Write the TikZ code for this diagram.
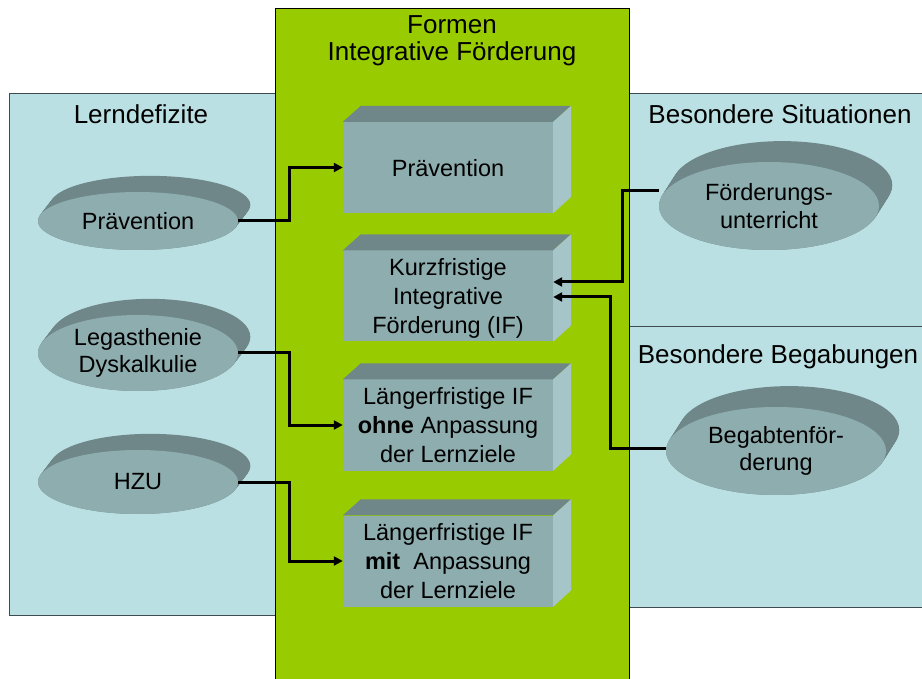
\documentclass[tikz,border=0pt]{standalone}
\usepackage{fontspec}
\setmainfont{Liberation Sans}
\usetikzlibrary{arrows.meta,shapes.geometric}

\definecolor{feldblau}{HTML}{BBE0E3}
\definecolor{feldgruen}{HTML}{99CC00}
\definecolor{vorne}{HTML}{8EADAF}
\definecolor{oben}{HTML}{6F8789}
\definecolor{seite}{HTML}{A6C5C9}
\definecolor{rand}{HTML}{3F4A4C}

\tikzset{
  titel/.style={font=\fontsize{26}{27}\selectfont, align=center},
  quader/.style={fill=vorne, minimum width=210pt, minimum height=91pt, inner sep=0pt,
    text depth=0pt, align=center, font=\fontsize{23.5}{29}\selectfont},
  scheibe/.style={ellipse, fill=vorne, inner sep=0pt, align=center,
    font=\fontsize{23.5}{27.5}\selectfont},
  verbinder/.style={line width=3pt, -{Triangle[length=9pt,width=9pt]}},
}

\begin{document}
\begin{tikzpicture}[x=1pt,y=-1pt]
\useasboundingbox (0,0) rectangle (922,679);
\clip (0,0) rectangle (922,679);

% Felder
\filldraw[fill=feldblau, draw=rand, thin] (9,93) rectangle (300,615);
\filldraw[fill=feldblau, draw=rand, thin] (600,93) rectangle (940,326);
\filldraw[fill=feldblau, draw=rand, thin] (600,326) rectangle (940,607);
\filldraw[fill=feldgruen, draw=black, thin] (275,8) rectangle (629,700);

\node[titel] (formen) at (452,41) {Formen\\Integrative Förderung};
\node[titel] (lern) at (141,114) {Lerndefizite};
\node[titel] (situ) at (780,114) {Besondere Situationen};
\node[titel] (begab) at (778,357) {Besondere Begabungen};

% Scheiben (Rueckseite)
\foreach \cx/\cy/\ry in {138/221/29, 138/353/38, 138/482/32} {
  \foreach \t in {0,0.05,...,1}
    \fill[oben] ({\cx+13*\t},{\cy-17*\t}) ellipse (100pt and \ry pt);
}
\foreach \cx/\cy in {769/206, 776/451} {
  \foreach \t in {0,0.05,...,1}
    \fill[oben] ({\cx+14*\t},{\cy-22*\t}) ellipse (110pt and 44pt);
}

\node[scheibe, minimum width=200pt, minimum height=58pt] (e1) at (138,221) {Prävention};
\node[scheibe, minimum width=200pt, minimum height=76pt] (e2) at (138,353) {Legasthenie\\Dyskalkulie};
\node[scheibe, minimum width=200pt, minimum height=64pt] (e3) at (138,482) {HZU};
\node[scheibe, minimum width=220pt, minimum height=88pt] (e4) at (769,206) {Förderungs-\\unterricht};
\node[scheibe, minimum width=220pt, minimum height=88pt] (e5) at (776,451) {Begabtenför-\\derung};

% Quader
\node[quader] (b1) at (448,167.5) {Prävention};
\node[quader] (b2) at (448,296) {Kurzfristige\\Integrative\\Förderung (IF)};
\node[quader] (b3) at (448,425) {Längerfristige IF\\\textbf{ohne} Anpassung\\der Lernziele};
\node[quader] (b4) at (448,561) {Längerfristige IF\\\textbf{mit}~ Anpassung\\der Lernziele};

\foreach \b in {b1,b2,b3,b4} {
  \fill[oben] (\b.north west) -- ++(18,-16) -- ++(210,0) -- (\b.north east) -- cycle;
  \fill[seite] (\b.north east) -- ++(18,-16) -- ++(0,91) -- (\b.south east) -- cycle;
}

% Verbindungen
\draw[verbinder] (e1.east) -- ++(51,0) |- (b1.west);
\draw[verbinder] (e2.east) -- ++(51,0) |- (b3.west);
\draw[verbinder] (e3.east) -- ++(51,0) |- (b4.west);
\draw[verbinder] ([yshift=15pt]e4.west) -- ++(-36,0) |- ([yshift=14pt]b2.east);
\draw[verbinder] ([yshift=3pt]e5.west) -- ++(-55,0) |- ([yshift=-1pt]b2.east);
\end{tikzpicture}
\end{document}
